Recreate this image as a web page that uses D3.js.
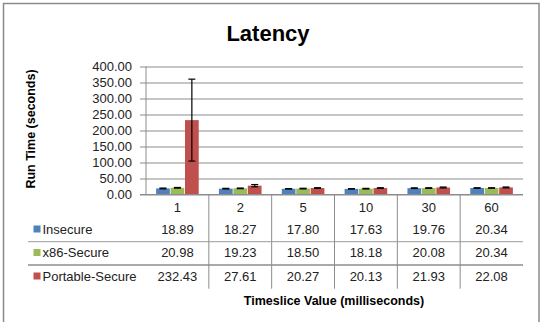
<!DOCTYPE html>
<html>
<head>
<meta charset="utf-8">
<script src="https://cdn.jsdelivr.net/npm/d3@7"></script>
<style>
  body { margin: 0; background: #fff; }
  text { font-family: "Liberation Sans", Arial, sans-serif; }
</style>
</head>
<body>
<div id="chart"></div>
<script>
// data
var categories = ["1", "2", "5", "10", "30", "60"];
var seriesNames = ["Insecure", "x86-Secure", "Portable-Secure"];
var insecure = [18.89, 18.27, 17.80, 17.63, 19.76, 20.34];
var x86Secure = [20.98, 19.23, 18.50, 18.18, 20.08, 20.34];
var portableSecure = [232.43, 27.61, 20.27, 20.13, 21.93, 22.08];
// error bar half-heights (estimated)
var insecureErr = [1.2, 1.0, 0.4, 0.4, 1.0, 0.6];
var x86SecureErr = [1.0, 1.0, 1.0, 1.0, 1.0, 0.6];
var portableSecureErr = [128, 3.5, 1.0, 1.0, 1.4, 1.4];
var yTicks = [0, 50, 100, 150, 200, 250, 300, 350, 400];

var seriesValues = [insecure, x86Secure, portableSecure];
var seriesErrors = [insecureErr, x86SecureErr, portableSecureErr];
var colors = ["#4f81bd", "#9bbb59", "#c0504d"];

var W = 541, H = 322;
var plot = { left: 146, right: 523, top: 66.5, bottom: 194.5 };

var svg = d3.select("#chart")
  .append("svg")
  .attr("width", W)
  .attr("height", H);

// outer frame (bottom edge runs off the picture)
svg.append("rect")
  .attr("x", 3.5).attr("y", 3.5)
  .attr("width", 535.5).attr("height", 330)
  .attr("fill", "#fff")
  .attr("stroke", "#8a8a8a")
  .attr("stroke-width", 1.5);

// title
svg.append("text")
  .attr("x", 268)
  .attr("y", 41)
  .attr("text-anchor", "middle")
  .style("font-size", "22px")
  .style("font-weight", "bold")
  .text("Latency");

var x = d3.scaleBand()
  .domain(categories)
  .range([plot.left, plot.right]);

var x1 = d3.scaleBand()
  .domain(seriesNames)
  .range([0, x.bandwidth()])
  .paddingInner(0.05)
  .paddingOuter(0.7);

var y = d3.scaleLinear()
  .domain([0, 400])
  .range([plot.bottom, plot.top]);

// y axis with gridlines
var yAxis = svg.append("g")
  .attr("transform", "translate(" + plot.left + ",0)")
  .call(d3.axisLeft(y).tickValues(yTicks).tickFormat(d3.format(".2f")));
yAxis.select(".domain").remove();
yAxis.selectAll(".tick line")
  .attr("x1", -6)
  .attr("x2", plot.right - plot.left)
  .attr("stroke", "#8c8c8c");
yAxis.selectAll(".tick text")
  .attr("x", -14)
  .style("font-size", "13px")
  .style("font-family", "'Liberation Sans', Arial, sans-serif")
  .attr("fill", "#222");

svg.append("line")
  .attr("x1", plot.left).attr("x2", plot.left)
  .attr("y1", plot.top).attr("y2", plot.bottom)
  .attr("stroke", "#8c8c8c");

// bars
seriesValues.forEach(function (vals, s) {
  svg.selectAll(".bar" + s)
    .data(vals)
    .enter()
    .append("rect")
    .attr("x", function (d, i) { return x(categories[i]) + x1(seriesNames[s]); })
    .attr("y", function (d) { return y(d); })
    .attr("width", x1.bandwidth())
    .attr("height", function (d) { return y(0) - y(d); })
    .attr("fill", colors[s]);
});

// error bars
seriesValues.forEach(function (vals, s) {
  var errs = seriesErrors[s];
  vals.forEach(function (v, i) {
    var cx = x(categories[i]) + x1(seriesNames[s]) + x1.bandwidth() / 2;
    var top = y(v + errs[i]), bot = y(v - errs[i]);
    var g = svg.append("g").attr("stroke", "#000").attr("stroke-width", 1.2);
    g.append("line").attr("x1", cx).attr("x2", cx).attr("y1", top).attr("y2", bot);
    g.append("line").attr("x1", cx - 3.5).attr("x2", cx + 3.5).attr("y1", top).attr("y2", top);
    g.append("line").attr("x1", cx - 3.5).attr("x2", cx + 3.5).attr("y1", bot).attr("y2", bot);
  });
});

// baseline
svg.append("line")
  .attr("x1", plot.left - 6).attr("x2", plot.right)
  .attr("y1", plot.bottom).attr("y2", plot.bottom)
  .attr("stroke", "#8c8c8c");

// data table
var rowBase = [212, 233.5, 257, 280.5];
var tableBottom = 288.7;

categories.slice(1).forEach(function (c) {
  svg.append("line")
    .attr("x1", x(c)).attr("x2", x(c))
    .attr("y1", plot.bottom).attr("y2", tableBottom)
    .attr("stroke", "#8c8c8c");
});

svg.append("line")
  .attr("x1", 28).attr("x2", plot.right)
  .attr("y1", 241.7).attr("y2", 241.7)
  .attr("stroke", "#9a9a9a");
svg.append("line")
  .attr("x1", 28).attr("x2", plot.right)
  .attr("y1", 265).attr("y2", 265)
  .attr("stroke", "#8c8c8c")
  .attr("stroke-width", 1.5);

svg.selectAll(".cat")
  .data(categories)
  .enter()
  .append("text")
  .attr("x", function (d) { return x(d) + x.bandwidth() / 2; })
  .attr("y", rowBase[0])
  .attr("text-anchor", "middle")
  .style("font-size", "13px")
  .attr("fill", "#222")
  .text(function (d) { return d; });

seriesValues.forEach(function (vals, s) {
  svg.selectAll(".val" + s)
    .data(vals)
    .enter()
    .append("text")
    .attr("x", function (d, i) { return x(categories[i]) + x.bandwidth() / 2; })
    .attr("y", rowBase[s + 1])
    .attr("text-anchor", "middle")
    .style("font-size", "13px")
    .attr("fill", "#222")
    .text(function (d) { return d.toFixed(2); });

  svg.append("rect")
    .attr("x", 33.5)
    .attr("y", rowBase[s + 1] - 8)
    .attr("width", 7)
    .attr("height", 7)
    .attr("fill", colors[s]);

  svg.append("text")
    .attr("x", 42.5)
    .attr("y", rowBase[s + 1])
    .style("font-size", "13px")
    .attr("fill", "#222")
    .text(seriesNames[s]);
});

// axis titles
svg.append("text")
  .attr("transform", "translate(35," + 129 + ") rotate(-90)")
  .attr("text-anchor", "middle")
  .style("font-size", "12.5px")
  .style("font-weight", "bold")
  .text("Run Time (seconds)");

svg.append("text")
  .attr("x", 334)
  .attr("y", 304.5)
  .attr("text-anchor", "middle")
  .style("font-size", "12.5px")
  .style("font-weight", "bold")
  .text("Timeslice Value (milliseconds)");
</script>
</body>
</html>
